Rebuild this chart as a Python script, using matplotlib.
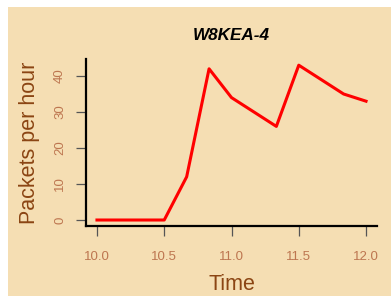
import matplotlib

matplotlib.use("Agg")
import matplotlib.pyplot as plt
from matplotlib.patches import Rectangle

# hours (10-minute steps) and packet counts
times = [10.0, 10.1667, 10.3333, 10.5, 10.6667, 10.8333, 11.0,
         11.1667, 11.3333, 11.5, 11.6667, 11.8333, 12.0]
packets = [0, 0, 0, 0, 12, 42, 34, 30, 26, 43, 39, 35, 33]
x_ticks = [10.0, 10.5, 11.0, 11.5, 12.0]
y_ticks = [0, 10, 20, 30, 40]
title = "W8KEA-4"

BG = "#f5deb3"
LABEL = "#8b4513"
TICKLAB = "#bd7650"

plt.rcParams["font.family"] = ["Liberation Sans", "DejaVu Sans"]

W, H = 391, 296
fig = plt.figure(figsize=(W / 100, H / 100), dpi=100)
fig.patch.set_facecolor("white")
fig.patches.append(Rectangle((8 / W, 0), 1 - 8 / W, 1 - 7 / H,
                             transform=fig.transFigure, facecolor=BG,
                             edgecolor="none", zorder=-10))

ax = fig.add_axes([86.2 / W, 1 - 226.2 / H, (376.8 - 86.2) / W, (226.2 - 59) / H])
ax.set_facecolor("none")
ax.plot(times, packets, color="red", linewidth=2.2)

ax.set_xlim(9.92, 12.08)
ax.set_ylim(-1.72, 44.72)
ax.set_xticks(x_ticks)
ax.set_xticklabels([f"{t:.1f}" for t in x_ticks])
ax.set_yticks(y_ticks)
ax.set_yticklabels([str(v) for v in y_ticks], rotation=90, va="center")

for side in ("top", "right"):
    ax.spines[side].set_visible(False)
for side in ("left", "bottom"):
    ax.spines[side].set_linewidth(1.6)
    ax.spines[side].set_color("black")

ax.tick_params(axis="both", length=7.5, width=0.9, color="#555555",
               labelcolor=TICKLAB, labelsize=9.5)
ax.tick_params(axis="x", pad=10)
ax.tick_params(axis="y", pad=7)

ax.set_xlabel("Time", fontsize=15.5, color=LABEL, labelpad=8)
ax.set_ylabel("Packets per hour", fontsize=15.5, color=LABEL, labelpad=10)
ax.set_title(title, fontsize=12.3, fontweight="bold", style="italic", pad=14)

fig.savefig("out.png", dpi=100, facecolor=fig.get_facecolor())
